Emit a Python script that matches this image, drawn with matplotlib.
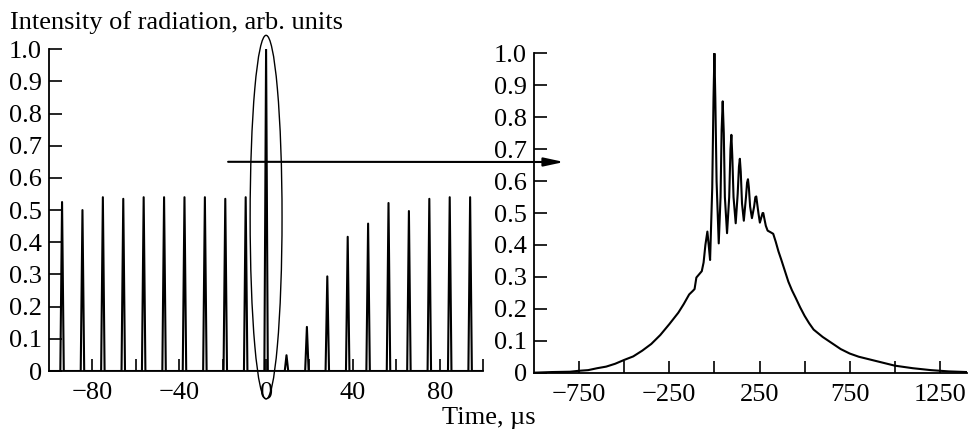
import matplotlib
matplotlib.use('Agg')
import matplotlib.pyplot as plt
from matplotlib.patches import Ellipse
import numpy as np

plt.rcParams['font.family'] = ['Liberation Serif', 'DejaVu Serif']
plt.rcParams['font.size'] = 19

# left panel: pulse train (time in us, peak intensity)
pulse_t = [-94, -84.6, -75.2, -65.8, -56.4, -47, -37.6, -28.2, -18.8, -9.4, 0,
           9.4, 18.8, 28.2, 37.6, 47, 56.4, 65.8, 75.2, 84.6, 94]
pulse_h = [0.525, 0.50, 0.54, 0.535, 0.54, 0.54, 0.54, 0.54, 0.535, 0.54, 1.0,
           0.049, 0.137, 0.294, 0.417, 0.458, 0.522, 0.497, 0.535, 0.54, 0.54]

# right panel: zoomed single pulse profile
t_zoom = [-1000, -900, -800, -750, -700, -650, -600, -550, -500, -450, -400,
          -350, -300, -250, -200, -170, -140, -120, -110, -100, -85, -70, -60,
          -50, -39, -30, -24, -12, -5, 0, 5, 12, 24, 34, 40, 46, 52, 58, 70,
          82, 89, 94, 99, 106, 118, 129, 136, 141, 146, 153, 163, 175, 181,
          186, 191, 198, 208, 220, 227, 232, 237, 244, 252, 262, 267, 271,
          276, 285, 295, 311, 326, 340, 355, 370, 390, 410, 430, 450, 475,
          500, 525, 550, 600, 650, 700, 750, 800, 850, 900, 950, 1000, 1050,
          1100, 1150, 1200, 1250, 1300, 1350, 1400]
i_zoom = [0.0, 0.002, 0.003, 0.006, 0.008, 0.014, 0.019, 0.028, 0.040, 0.051,
          0.069, 0.090, 0.118, 0.152, 0.188, 0.215, 0.245, 0.256, 0.262,
          0.298, 0.308, 0.318, 0.345, 0.40, 0.442, 0.39, 0.353, 0.58, 0.86,
          1.0, 0.86, 0.60, 0.405, 0.55, 0.76, 0.85, 0.75, 0.55, 0.437, 0.55,
          0.70, 0.745, 0.68, 0.55, 0.468, 0.56, 0.645, 0.67, 0.63, 0.53,
          0.476, 0.55, 0.595, 0.606, 0.58, 0.52, 0.484, 0.52, 0.55, 0.552,
          0.53, 0.50, 0.47, 0.49, 0.50, 0.50, 0.485, 0.46, 0.445, 0.44,
          0.435, 0.41, 0.38, 0.355, 0.32, 0.285, 0.258, 0.235, 0.205, 0.178,
          0.155, 0.135, 0.112, 0.093, 0.074, 0.060, 0.050, 0.043, 0.036,
          0.029, 0.022, 0.018, 0.014, 0.011, 0.008, 0.006, 0.004, 0.003,
          0.002]

fig = plt.figure(figsize=(9.69, 4.32), dpi=100)
ax1 = fig.add_axes([0.0506, 0.1412, 0.448, 0.745])
ax2 = fig.add_axes([0.5511, 0.1373, 0.4468, 0.739])
ax2.patch.set_alpha(0)
ax1.set_zorder(2)
ax1.patch.set_alpha(0)

# build narrow spikes from pulse centres and heights
w = 0.8
xs, ys = [-100], [0]
for c, h in zip(pulse_t, pulse_h):
    xs += [c - w, c, c + w]
    ys += [0, h, 0]
xs.append(100)
ys.append(0)
ax1.plot(xs, ys, color='black', lw=1.5)

ax2.plot(t_zoom, i_zoom, color='black', lw=1.5)

for ax in (ax1, ax2):
    ax.spines['top'].set_visible(False)
    ax.spines['right'].set_visible(False)
    ax.spines['left'].set_linewidth(1.3)
    ax.spines['bottom'].set_linewidth(1.3)
    ax.set_ylim(0, 1.0)
    ax.set_yticks(np.arange(0, 1.01, 0.1))
    ax.set_yticklabels(['0'] + ['%.1f' % v for v in np.arange(0.1, 1.01, 0.1)])
    ax.tick_params(direction='in', length=9, width=1.2, pad=5)
    ax.tick_params(axis='x', pad=8)
    ax.tick_params(which='minor', direction='in', length=9, width=1.2)

ax1.set_xlim(-100, 100)
ax1.set_xticks([-80, -40, 0, 40, 80])
ax1.set_xticks([-60, -20, 20, 60, 100], minor=True)
ax1.set_xticklabels(['\u221280', '\u221240', '0', '40', '80'])

ax2.set_xlim(-1000, 1400)
ax2.set_xticks([-750, -250, 250, 750, 1250])
ax2.set_xticks([-500, 0, 500, 1000], minor=True)
ax2.set_xticklabels(['\u2212750', '\u2212250', '250', '750', '1250'])

# ellipse marking the pulse that is enlarged on the right
ell = Ellipse((0, 0.478), 14.7, 1.13, fill=False, lw=1.0, color='black',
              clip_on=False)
ax1.add_patch(ell)
ax1.annotate('', xy=(564 / 969, 1 - 162 / 432), xycoords='figure fraction',
             xytext=(-17.5, 0.65), textcoords='data',
             arrowprops=dict(arrowstyle='-|>,head_length=0.6,head_width=0.13',
                             mutation_scale=20, color='black', lw=1.5,
                             shrinkA=0, shrinkB=0))

fig.text(0.010, 1 - 29 / 432, 'Intensity of radiation, arb. units',
         ha='left', va='baseline', fontsize=19)
fig.text(0.504, 0.032, 'Time, \u00b5s', ha='center', va='center', fontsize=19)

fig.savefig('out.png', dpi=100)
